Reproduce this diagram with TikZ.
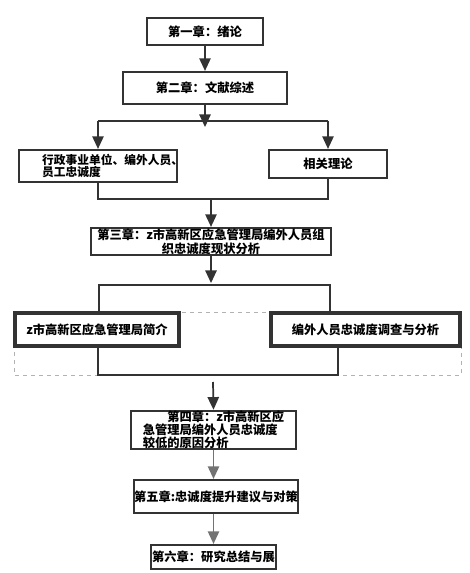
\documentclass[tikz,border=0pt]{standalone}
\usepackage{fontspec}
\setmainfont{Noto Sans CJK SC}
\usepackage{tikz}
\usetikzlibrary{arrows.meta}

\newdimen\unitpx
\unitpx=0.75pt

\begin{document}
\begin{tikzpicture}[x=0.75pt,y=-0.75pt,
  box/.style={draw=black!80, line width=1.6pt, inner sep=0pt,
    font=\bfseries\fontsize{9.2pt}{10.5pt}\selectfont},
  thickbox/.style={box, line width=2.6pt},
  txt/.style={inner sep=0pt, font=\bfseries\fontsize{8.8pt}{9.4pt}\selectfont},
  conn/.style={draw=black!80, line width=1.3pt},
  arr/.style={conn, -{Triangle[length=9.5pt,width=8.5pt]}},
  arrgray/.style={arr, draw=black!55}
]
\useasboundingbox (0,0) rectangle (469,573);

% dashed frame behind the middle row
\draw[dashed, black!30, line width=0.6pt] (14,312) rectangle (461,375);

\node[box, minimum width=116*\unitpx, minimum height=27*\unitpx] (ch1) at (205,31.5) {第一章：绪论};
\node[box, minimum width=164*\unitpx, minimum height=32*\unitpx] (ch2) at (205,88) {第二章：文献综述};
\node[box, minimum width=158*\unitpx, minimum height=32*\unitpx] (lit) at (98,166) {};
\node[txt, anchor=west, align=left] (litText) at ([xshift=24*\unitpx]lit.west) {行政事业单位、编外人员、\\员工忠诚度};
\node[box, minimum width=118*\unitpx, minimum height=28*\unitpx] (theory) at (328,164) {相关理论};
\node[box, minimum width=240*\unitpx, minimum height=27*\unitpx, align=center] (ch3) at (211,241.5)
  {第三章：z市高新区应急管理局编外人员组\\织忠诚度现状分析};
\node[thickbox, minimum width=164*\unitpx, minimum height=33*\unitpx] (intro) at (97,329.5) {z市高新区应急管理局简介};
\node[thickbox, minimum width=189*\unitpx, minimum height=33*\unitpx] (survey) at (365.5,329.5) {编外人员忠诚度调查与分析};
\node[box, minimum width=165*\unitpx, minimum height=32*\unitpx, align=left,
  font=\bfseries\fontsize{9.2pt}{8.6pt}\selectfont] (ch4) at (213.5,430)
  {\hspace*{2em}第四章：z市高新区应\\急管理局编外人员忠诚度\\较低的原因分析};
\node[box, minimum width=164*\unitpx, minimum height=33*\unitpx] (ch5) at (216,496.5) {第五章:忠诚度提升建议与对策};
\node[box, minimum width=125*\unitpx, minimum height=24*\unitpx] (ch6) at (213.5,557) {第六章：研究总结与展};

\coordinate (splitL) at (98,121);
\coordinate (splitR) at (328,121);
\coordinate (joinL) at (98,199);
\coordinate (joinR) at (328,199);
\coordinate (brTL) at (99,285);
\coordinate (brTR) at (330,285);
\coordinate (brBL) at (98,375);
\coordinate (brBR) at (338,375);
\coordinate (out3) at (213,382);

\draw[arr] (ch1) -- (ch2);
\draw[conn] (splitL) -- (splitR);
\draw[arr] (ch2.south) -- ++(0,22);
\draw[arr] (splitL) -- (lit.north);
\draw[arr] (splitR) -- (theory.north);
\draw[conn] (lit.south) -- (joinL) -- (joinR) -- (theory.south);
\draw[arr] (joinL -| ch3.north) -- (ch3.north);
\draw[arr] (ch3.south) -- ++(0,27);
\draw[conn] (brTL |- intro.north) -- (brTL) -- (brTR) -- (brTR |- survey.north);
\draw[conn] (brBL |- intro.south) -- (brBL) -- (brBR) -- (brBR |- survey.south);
\draw[arr] (out3) -- (ch4.north);
\draw[arrgray] (ch4.south) -- (ch4.south |- ch5.north);
\draw[arrgray] (ch5.south -| ch6.north) -- (ch6.north);
\end{tikzpicture}
\end{document}
